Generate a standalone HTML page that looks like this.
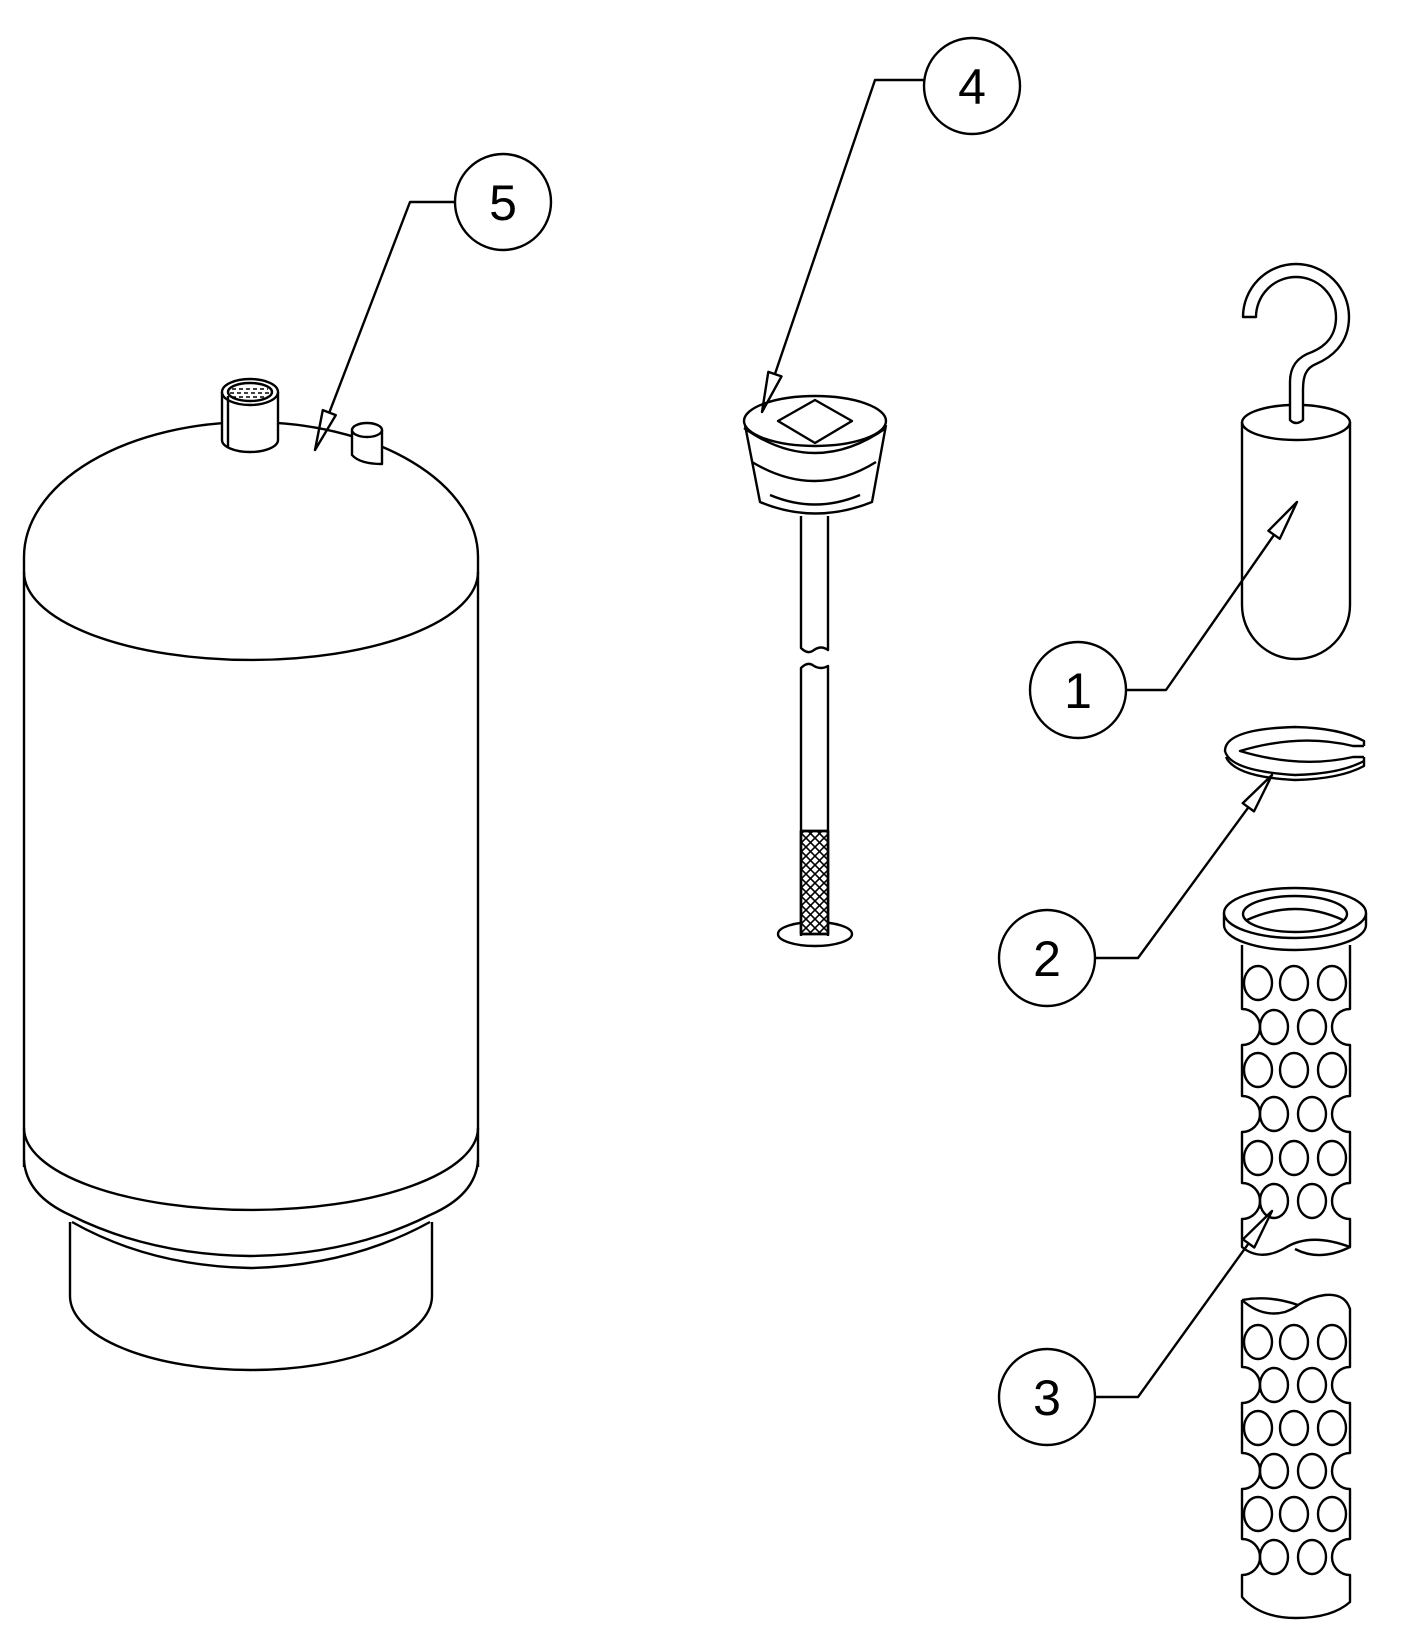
<!DOCTYPE html>
<html><head><meta charset="utf-8"><style>
html,body{margin:0;padding:0;background:#fff}
svg{display:block}
text{font-family:"Liberation Sans",sans-serif;font-size:50px;fill:#000;text-anchor:middle}
</style></head><body>
<svg width="1402" height="1636" viewBox="0 0 1402 1636" xmlns="http://www.w3.org/2000/svg">
<defs>
<clipPath id="hc"><rect x="801" y="831" width="27" height="103"/></clipPath>
</defs>
<g fill="none" stroke="#000" stroke-width="2.4" stroke-linejoin="round">
<!-- TANK -->
<path d="M24,1167 L24,557 A227,135 0 0 1 478,557 L478,1167"/>
<path d="M24,572 A227,88 0 0 0 478,572"/>
<path d="M24,1128 A227,82 0 0 0 478,1128"/>
<path d="M24,1160 Q26,1195 70,1215 Q150,1255 250,1256 Q350,1255 430,1215 Q476,1195 478,1160"/>
<path d="M72,1222 Q150,1266 250,1268 Q350,1266 430,1222"/>
<path d="M70,1222 L70,1296 A181,74 0 0 0 432,1296 L432,1222"/>
<!-- left nozzle -->
<path d="M222,392 L222,440 A28,12 0 0 0 278,440 L278,392" fill="#fff"/>
<ellipse cx="250" cy="392" rx="28" ry="13" fill="#fff"/>
<ellipse cx="250" cy="392" rx="22" ry="9"/>
<line x1="228" y1="396" x2="228" y2="448"/>
<g stroke-width="1.6" stroke-dasharray="4 3"><line x1="232" y1="389" x2="268" y2="389"/><line x1="230" y1="393" x2="270" y2="393"/><line x1="232" y1="397" x2="268" y2="397"/></g>
<!-- right nozzle -->
<path d="M352,430 L352,455 Q360,464 382,464 L382,430" fill="#fff"/>
<ellipse cx="367" cy="430" rx="15" ry="7" fill="#fff"/>
<!-- label 5 -->
<circle cx="503" cy="202" r="48"/>
<polyline points="455,202 410,202 329.3,412.6"/>
<polygon points="315,450 335.8,415.1 322.8,410.1"/>

<!-- PLUG 4 -->
<path d="M745,425 L760,502 Q815,525 872,502 L886,425"/>
<ellipse cx="815" cy="421" rx="71" ry="25" fill="#fff"/>
<path d="M744,428 Q815,478 886,428"/>
<path d="M752,462 Q815,500 876,462"/>
<path d="M770,495 Q815,514 860,495"/>
<polygon points="778,421 815,400 852,421 815,443"/>
<path d="M801,516 L801,648 Q808,655 814,650 Q821,645 828,650 L828,516"/>
<path d="M801,936 L801,668 Q808,661 814,666 Q821,670 828,666 L828,936"/>
<ellipse cx="815" cy="934" rx="37" ry="12"/>
<rect x="801" y="831" width="27" height="103" fill="#fff"/>
<g clip-path="url(#hc)" stroke-width="1.6">
<path d="M790,795 l60,60 M790,804 l60,60 M790,813 l60,60 M790,822 l60,60 M790,831 l60,60 M790,840 l60,60 M790,849 l60,60 M790,858 l60,60 M790,867 l60,60 M790,876 l60,60 M790,885 l60,60 M790,894 l60,60 M790,903 l60,60 M790,912 l60,60 M790,921 l60,60 M790,930 l60,60"/>
<path d="M840,795 l-60,60 M840,804 l-60,60 M840,813 l-60,60 M840,822 l-60,60 M840,831 l-60,60 M840,840 l-60,60 M840,849 l-60,60 M840,858 l-60,60 M840,867 l-60,60 M840,876 l-60,60 M840,885 l-60,60 M840,894 l-60,60 M840,903 l-60,60 M840,912 l-60,60 M840,921 l-60,60 M840,930 l-60,60"/>
</g>
<rect x="801" y="831" width="27" height="103"/>
<!-- label 4 -->
<circle cx="972" cy="86" r="48"/>
<polyline points="924,80 875,80 774.9,374.1"/>
<polygon points="762,412 781.5,376.4 768.3,371.9"/>

<!-- WEIGHT 1 -->
<path d="M1243,317 A53,53 0 0 1 1349,317 C1349,345 1330,358 1316,364 C1306,368 1303,376 1303,390 L1303,420 Q1296,426 1290,420 L1290,382 C1290,364 1300,356 1312,352 C1326,346 1336,336 1336,317 A40,40 0 0 0 1256,317 Z"/>
<path d="M1242,422 L1242,605 A54,54 0 0 0 1350,605 L1350,422"/>
<path d="M1242,422 A54,18 0 0 0 1350,422"/>
<path d="M1303,405 A54,18 0 0 1 1350,422"/>
<path d="M1242,422 A54,18 0 0 1 1290,405"/>
<circle cx="1078" cy="690" r="48"/>
<polyline points="1126,690 1166,690 1274.1,534.8"/>
<polygon points="1297,502 1279.8,538.8 1268.4,530.8"/>

<!-- RING 2 -->
<g transform="translate(0,33)">
<path d="M1364,713 L1353,713 Q1300,700 1240,718 Q1300,736 1353,724 L1364,724"/>
<path d="M1364,713 L1364,708 Q1340,695 1295,694 Q1225,696 1225,718 Q1230,738 1295,742 Q1340,741 1364,728 L1364,724"/>
<path d="M1226,724 Q1235,744 1295,747 Q1340,746 1364,733 L1364,728"/>
</g>
<circle cx="1047" cy="958" r="48"/>
<polyline points="1095,958 1138,958 1248.4,807.3"/>
<polygon points="1272,775 1254,811.4 1242.7,803.2"/>

<!-- SCREEN 3 upper -->
<path d="M1242,945 L1242,1009 A18,18 0 0 1 1242,1045 L1242,1096 A18,18 0 0 1 1242,1132 L1242,1183 A18,18 0 0 1 1242,1219 L1242,1247 Q1260,1262 1285,1248 Q1310,1232 1350,1247 L1350,1219 A18,18 0 0 1 1350,1183 L1350,1132 A18,18 0 0 1 1350,1096 L1350,1045 A18,18 0 0 1 1350,1009 L1350,945"/>
<path d="M1295,1249 Q1320,1262 1350,1247"/>
<path d="M1224,913 L1224,925 A71,25 0 0 0 1366,925 L1366,913"/>
<ellipse cx="1295" cy="913" rx="71" ry="25" fill="#fff"/>
<ellipse cx="1295" cy="914" rx="52" ry="18"/>
<path d="M1247,920 Q1295,898 1343,920"/>
<g>
<ellipse cx="1258" cy="983" rx="14" ry="17"/><ellipse cx="1294" cy="983" rx="14" ry="17"/><ellipse cx="1332" cy="983" rx="14" ry="17"/>
<ellipse cx="1274" cy="1027" rx="14" ry="17"/><ellipse cx="1312" cy="1027" rx="14" ry="17"/>
<ellipse cx="1258" cy="1070" rx="14" ry="17"/><ellipse cx="1294" cy="1070" rx="14" ry="17"/><ellipse cx="1332" cy="1070" rx="14" ry="17"/>
<ellipse cx="1274" cy="1114" rx="14" ry="17"/><ellipse cx="1312" cy="1114" rx="14" ry="17"/>
<ellipse cx="1258" cy="1158" rx="14" ry="17"/><ellipse cx="1294" cy="1158" rx="14" ry="17"/><ellipse cx="1332" cy="1158" rx="14" ry="17"/>
<ellipse cx="1274" cy="1201" rx="14" ry="17"/><ellipse cx="1312" cy="1201" rx="14" ry="17"/>
</g>
<!-- SCREEN 3 lower -->
<path d="M1242,1300 L1242,1367 A18,18 0 0 1 1242,1403 L1242,1453 A18,18 0 0 1 1242,1489 L1242,1539 A18,18 0 0 1 1242,1575 L1242,1597 Q1260,1618 1296,1618 Q1332,1618 1350,1602 L1350,1575 A18,18 0 0 1 1350,1539 L1350,1489 A18,18 0 0 1 1350,1453 L1350,1403 A18,18 0 0 1 1350,1367 L1350,1309 Q1345,1293 1325,1295 Q1310,1297 1298,1305 Q1270,1295 1242,1300"/>
<path d="M1242,1300 Q1262,1318 1285,1312 Q1295,1308 1298,1305"/>
<g>
<ellipse cx="1258" cy="1342" rx="14" ry="17"/><ellipse cx="1294" cy="1342" rx="14" ry="17"/><ellipse cx="1332" cy="1342" rx="14" ry="17"/>
<ellipse cx="1274" cy="1385" rx="14" ry="17"/><ellipse cx="1312" cy="1385" rx="14" ry="17"/>
<ellipse cx="1258" cy="1428" rx="14" ry="17"/><ellipse cx="1294" cy="1428" rx="14" ry="17"/><ellipse cx="1332" cy="1428" rx="14" ry="17"/>
<ellipse cx="1274" cy="1471" rx="14" ry="17"/><ellipse cx="1312" cy="1471" rx="14" ry="17"/>
<ellipse cx="1258" cy="1514" rx="14" ry="17"/><ellipse cx="1294" cy="1514" rx="14" ry="17"/><ellipse cx="1332" cy="1514" rx="14" ry="17"/>
<ellipse cx="1274" cy="1557" rx="14" ry="17"/><ellipse cx="1312" cy="1557" rx="14" ry="17"/>
</g>
<circle cx="1047" cy="1397" r="48"/>
<polyline points="1095,1397 1138,1397 1248.6,1243.4"/>
<polygon points="1272,1211 1254.3,1247.5 1242.9,1239.3" fill="#fff"/>
</g>
<text x="503" y="220">5</text>
<text x="972" y="104">4</text>
<text x="1078" y="708">1</text>
<text x="1047" y="976">2</text>
<text x="1047" y="1415">3</text>
</svg>
</body></html>
